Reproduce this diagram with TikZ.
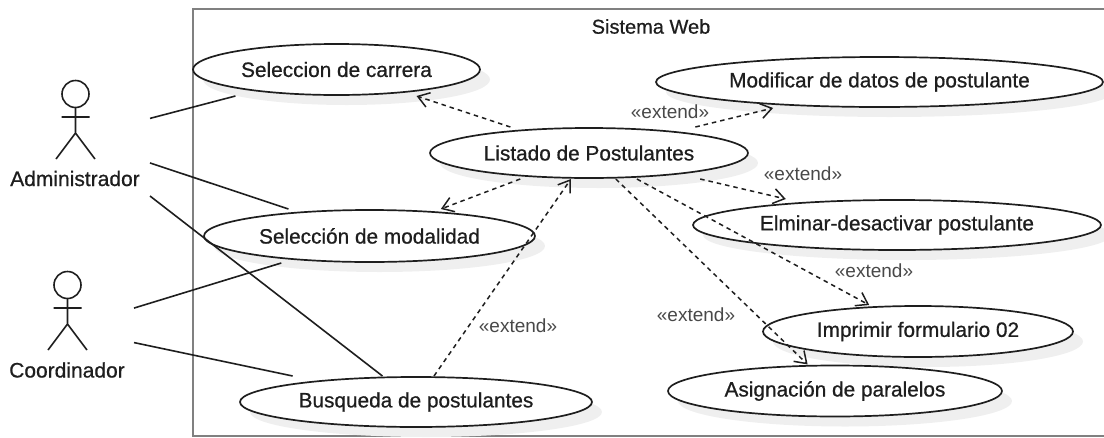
\documentclass[tikz,border=0pt]{standalone}
\usepackage{fontspec}
\setmainfont{Liberation Sans}
\newfontfamily\ucfont[FakeBold=0.7]{Liberation Sans}
\usetikzlibrary{arrows.meta}
\definecolor{shadowgray}{HTML}{EFEFEF}
\definecolor{framegray}{HTML}{808080}
\definecolor{inkdark}{HTML}{1E1E1E}
\definecolor{stereo}{HTML}{484848}
\tikzset{
  ucbox/.style={rectangle,inner sep=0pt,outer sep=1pt,text=inkdark,font=\ucfont\fontsize{20.8}{24}\selectfont},
  actorbox/.style={rectangle,inner sep=0pt,outer sep=0pt},
  actorname/.style={inner sep=0pt,text=inkdark,font=\ucfont\fontsize{21}{24}\selectfont},
  stereotype/.style={inner sep=0pt,text=stereo,font=\fontsize{19}{22}\selectfont},
  systitle/.style={inner sep=0pt,text=inkdark,font=\ucfont\fontsize{20}{24}\selectfont},
  assoc/.style={draw=inkdark,line width=1.6pt},
  dep/.style={draw=inkdark,line width=1.5pt,dash pattern=on 4.5pt off 4pt,-{Straight Barb[length=11pt,width=15pt,line width=1.5pt]}},
  ucline/.style={draw=inkdark,line width=1.7pt,fill=white},
  stick/.style={draw=inkdark,line width=1.6pt},
}
\newcommand\ucshadow[4]{%
  \fill[shadowgray] (#1+10,#2+10) ellipse [x radius=#3,y radius=#4];
}
\newcommand\ucface[4]{%
  \path[ucline] (#1,#2) ellipse [x radius=#3,y radius=#4];
}
\newcommand\stickman[2]{%
  \draw[stick] (#1,#2) circle [radius=13.5];
  \draw[stick] (#1,#2+13.5) -- (#1,#2+39)
               (#1-14,#2+23) -- (#1+14,#2+23)
               (#1-19.5,#2+65) -- (#1,#2+39) -- (#1+19.5,#2+65);
}
\begin{document}
\begin{tikzpicture}[x=1pt,y=-1pt]
\useasboundingbox (0,0) rectangle (1104,437);
\draw[framegray,line width=2.7pt] (1106,9) -- (193,9) -- (193,436) -- (1106,436);
\node[systitle] (title) at (651,26.5) {Sistema Web};

\ucshadow{336.5}{69.5}{143.5}{25.5}
\ucshadow{879.5}{82}{223.5}{25}
\ucshadow{589}{153}{159}{25}
\ucshadow{897}{225}{204}{25}
\ucshadow{918}{331.5}{155}{25.5}
\ucshadow{835}{391}{167}{25.5}
\ucshadow{369.5}{236}{165.5}{26}
\ucshadow{416}{402}{176}{25}

\ucface{336.5}{69.5}{143.5}{25.5}
\ucface{879.5}{82}{223.5}{25}
\ucface{589}{153}{159}{25}
\ucface{897}{225}{204}{25}
\ucface{918}{331.5}{155}{25.5}
\ucface{835}{391}{167}{25.5}
\ucface{369.5}{236}{165.5}{26}
\ucface{416}{402}{176}{25}

\node[ucbox,minimum width=287pt,minimum height=51pt] (sel) at (336.5,69.5) {Seleccion de carrera};
\node[ucbox,minimum width=447pt,minimum height=50pt] (mod) at (879.5,82) {Modificar de datos de postulante};
\node[ucbox,minimum width=318pt,minimum height=50pt] (lis) at (589,153) {Listado de Postulantes};
\node[ucbox,minimum width=408pt,minimum height=50pt] (eli) at (897,225) {Elminar-desactivar postulante};
\node[ucbox,minimum width=310pt,minimum height=51pt] (imp) at (918,331.5) {Imprimir formulario 02};
\node[ucbox,minimum width=334pt,minimum height=51pt] (asi) at (835,391) {Asignación de paralelos};
\node[ucbox,minimum width=331pt,minimum height=52pt] (smo) at (369.5,236) {Selección de modalidad};
\node[ucbox,minimum width=352pt,minimum height=50pt] (bus) at (416,402) {Busqueda de postulantes};

\stickman{75.5}{94}
\stickman{67.5}{285}
\node[actorbox,minimum width=150pt,minimum height=130pt] (adm) at (75,138) {};
\node[actorbox,minimum width=134pt,minimum height=130pt] (coo) at (67,328.5) {};
\node[actorname] (admname) at (75,178.5) {Administrador};
\node[actorname] (cooname) at (67,370) {Coordinador};

\draw[assoc] (adm) -- (sel);
\draw[assoc] (adm) -- (smo);
\draw[assoc] (adm) -- (bus);
\draw[assoc] (coo) -- (smo);
\draw[assoc] (coo) -- (bus);

\draw[dep] (lis) -- (sel);
\draw[dep] (lis) -- (smo);
\draw[dep] (bus) -- (lis);
\draw[dep] (lis) -- (mod);
\draw[dep] (lis) -- (eli);
\draw[dep] (lis) -- (imp);
\draw[dep] (lis) -- (asi);

\node[stereotype] (x1) at (670,111.5) {«extend»};
\node[stereotype] (x2) at (803,174) {«extend»};
\node[stereotype] (x3) at (874,270.5) {«extend»};
\node[stereotype] (x4) at (696,315) {«extend»};
\node[stereotype] (x5) at (518,326) {«extend»};
\end{tikzpicture}
\end{document}
